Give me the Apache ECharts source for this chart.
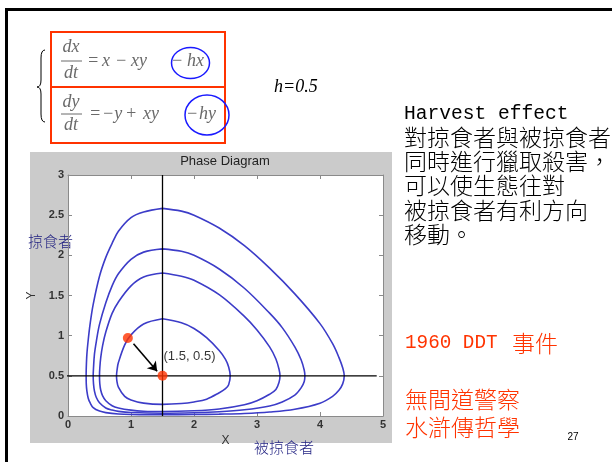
<!DOCTYPE html>
<html>
<head>
<meta charset="utf-8">
<script src="https://cdn.jsdelivr.net/npm/echarts@6/dist/echarts.min.js"></script>
<style>
  html, body { margin: 0; padding: 0; background: #fff; }
  #chart { width: 612px; height: 462px; }
</style>
</head>
<body>
<div id="chart"></div>
<script>
// Axis ticks
const xTickLabels = ['0', '1', '2', '3', '4', '5'];
const yTickLabels = ['0', '0.5', '1', '1.5', '2', '2.5', '3'];

// Predator–prey orbits with harvesting (x = prey, y = predator), traced clockwise from the top
const orbitInner = [
  [1.5, 1.21], [1.8, 1.16], [2.0, 1.09], [2.2, 0.975], [2.4, 0.815], [2.5, 0.705], [2.55, 0.61],
  [2.575, 0.5], [2.55, 0.39], [2.5, 0.34], [2.4, 0.29], [2.2, 0.21], [2.0, 0.175], [1.8, 0.155],
  [1.5, 0.145], [1.2, 0.16], [1.0, 0.2], [0.9, 0.245], [0.8, 0.36], [0.775, 0.44], [0.77, 0.5],
  [0.78, 0.58], [0.8, 0.665], [0.9, 0.885], [1.0, 1.01], [1.2, 1.145], [1.5, 1.21]
];
const orbitSecond = [
  [1.5, 1.78], [1.8, 1.74], [2.0, 1.69], [2.4, 1.51], [2.8, 1.24], [3.0, 1.07], [3.2, 0.86],
  [3.3, 0.71], [3.35, 0.58], [3.365, 0.5], [3.35, 0.42], [3.3, 0.33], [3.2, 0.27], [3.0, 0.19],
  [2.8, 0.14], [2.4, 0.087], [2.0, 0.065], [1.5, 0.056], [1.2, 0.06], [1.0, 0.073], [0.8, 0.1],
  [0.7, 0.128], [0.6, 0.19], [0.55, 0.25], [0.52, 0.32], [0.505, 0.4], [0.5, 0.5], [0.505, 0.6],
  [0.52, 0.73], [0.55, 0.88], [0.6, 1.045], [0.7, 1.277], [0.8, 1.42], [1.0, 1.62], [1.2, 1.73], [1.5, 1.78]
];
const orbitThird = [
  [1.5, 2.08], [1.8, 2.05], [2.0, 2.0], [2.4, 1.83], [2.8, 1.59], [3.2, 1.28], [3.4, 1.1],
  [3.6, 0.86], [3.7, 0.7], [3.75, 0.57], [3.76, 0.5], [3.75, 0.43], [3.7, 0.35], [3.6, 0.26],
  [3.4, 0.175], [3.2, 0.125], [2.8, 0.077], [2.4, 0.052], [2.0, 0.04], [1.5, 0.034], [1.0, 0.043],
  [0.8, 0.058], [0.7, 0.074], [0.6, 0.1], [0.5, 0.165], [0.45, 0.23], [0.42, 0.31], [0.405, 0.4],
  [0.4, 0.5], [0.405, 0.6], [0.42, 0.77], [0.45, 0.93], [0.5, 1.14], [0.6, 1.41], [0.7, 1.62],
  [0.8, 1.77], [1.0, 1.95], [1.2, 2.04], [1.5, 2.08]
];
const orbitOuter = [
  [1.5, 2.585], [1.8, 2.55], [2.0, 2.5], [2.4, 2.34], [2.8, 2.12], [3.2, 1.84], [3.6, 1.52],
  [4.0, 1.15], [4.2, 0.9], [4.3, 0.73], [4.36, 0.6], [4.385, 0.5], [4.36, 0.4], [4.3, 0.32],
  [4.2, 0.245], [4.0, 0.16], [3.6, 0.085], [3.2, 0.05], [2.8, 0.031], [2.4, 0.023], [2.0, 0.018],
  [1.5, 0.015], [1.0, 0.019], [0.8, 0.025], [0.6, 0.042], [0.5, 0.061], [0.4, 0.105], [0.35, 0.165],
  [0.32, 0.225], [0.3, 0.31], [0.29, 0.4], [0.288, 0.5], [0.29, 0.6], [0.3, 0.77], [0.32, 0.94],
  [0.35, 1.14], [0.4, 1.39], [0.5, 1.74], [0.6, 1.975], [0.7, 2.15], [0.8, 2.3], [1.0, 2.47],
  [1.2, 2.54], [1.5, 2.585]
];

// Equilibrium cross-hairs, start point, and the arrow toward equilibrium
const verticalGuide = [[1.5, 0], [1.5, 3]];
const horizontalGuide = [[-0.05, 0.5], [4.9, 0.5]];
const startPoint = [0.95, 0.97];
const equilibrium = [1.5, 0.5];
const arrowPath = [[1.04, 0.9], [1.415, 0.557]];
const equilibriumLabel = '(1.5, 0.5)';

// Slide text
const harvestTitle = 'Harvest effect';
const harvestLines = ['對掠食者與被掠食者', '同時進行獵取殺害，', '可以使生態往對', '被掠食者有利方向', '移動。'];
const ddtLatin = '1960 DDT';
const ddtCjk = '事件';
const redLines = ['無間道警察', '水滸傳哲學'];

const RED = '#ff3300';
const EQ_GREY = '#6a6a6a';
const NAVY = '#1f1f80';
const CJK = '"Noto Sans CJK TC", "Noto Sans CJK SC", sans-serif';
const MONO = '"Liberation Mono", "DejaVu Sans Mono", monospace';
const MATH = 'italic 18px "Liberation Serif", serif';

function txt(x, y, text, font, fill, align) {
  return {
    type: 'text', x: x, y: y,
    style: { text: text, font: font, fill: fill, align: align || 'left', verticalAlign: 'middle' }
  };
}
function seg(x1, y1, x2, y2, stroke, w) {
  return { type: 'line', shape: { x1: x1, y1: y1, x2: x2, y2: y2 }, style: { stroke: stroke, lineWidth: w } };
}
function curve(x1, y1, cx, cy, x2, y2) {
  return { type: 'bezierCurve', shape: { x1: x1, y1: y1, cpx1: cx, cpy1: cy, x2: x2, y2: y2 }, style: { fill: 'none', stroke: '#000', lineWidth: 1 } };
}

const graphics = [];
// slide frame
graphics.push({ type: 'rect', shape: { x: 5, y: 8, width: 620, height: 3 }, style: { fill: '#000' }, z: 10 });
graphics.push({ type: 'rect', shape: { x: 5, y: 8, width: 3, height: 470 }, style: { fill: '#000' }, z: 10 });
// figure background
graphics.push({ type: 'rect', shape: { x: 30, y: 152, width: 362, height: 291 }, style: { fill: '#cbcbcb' }, z: -10 });
// equation boxes
graphics.push({ type: 'rect', shape: { x: 51, y: 32, width: 174, height: 55 }, style: { fill: 'none', stroke: RED, lineWidth: 2 } });
graphics.push({ type: 'rect', shape: { x: 51, y: 87, width: 174, height: 56 }, style: { fill: 'none', stroke: RED, lineWidth: 2 } });
// brace joining the two equations
graphics.push(curve(45, 50, 41, 50, 41, 58));
graphics.push(seg(41, 58, 41, 80, '#000', 1));
graphics.push(curve(41, 80, 41, 87, 37, 87));
graphics.push(curve(37, 87, 41, 87, 41, 94));
graphics.push(seg(41, 94, 41, 114, '#000', 1));
graphics.push(curve(41, 114, 41, 122, 45, 122));
// first equation
graphics.push(txt(71, 47, 'dx', MATH, EQ_GREY, 'center'));
graphics.push(seg(61, 61, 82, 61, EQ_GREY, 1));
graphics.push(txt(71, 73, 'dt', MATH, EQ_GREY, 'center'));
[['=', 87], ['x', 102], ['−', 115], ['xy', 131], ['−', 171], ['hx', 187]].forEach(t => graphics.push(txt(t[1], 61, t[0], MATH, EQ_GREY)));
// second equation
graphics.push(txt(71, 102, 'dy', MATH, EQ_GREY, 'center'));
graphics.push(seg(61, 114, 82, 114, EQ_GREY, 1));
graphics.push(txt(71, 125, 'dt', MATH, EQ_GREY, 'center'));
[['=', 89], ['−y', 102], ['+', 125], ['xy', 143], ['−', 186], ['hy', 199]].forEach(t => graphics.push(txt(t[1], 114, t[0], MATH, EQ_GREY)));
// circles around the harvest terms
graphics.push({ type: 'ellipse', shape: { cx: 190.5, cy: 63, rx: 19, ry: 15.5 }, style: { fill: 'none', stroke: '#1a1aff', lineWidth: 1.5 } });
graphics.push({ type: 'ellipse', shape: { cx: 207, cy: 115, rx: 22, ry: 20 }, style: { fill: 'none', stroke: '#1a1aff', lineWidth: 1.5 } });
graphics.push(txt(274, 87, 'h=0.5', 'italic 18px "Liberation Serif", serif', '#000'));
// right-hand notes
graphics.push(txt(404, 114, harvestTitle, '19.6px ' + MONO, '#000'));
harvestLines.forEach((s, i) => graphics.push(txt(404, 137 + i * 24.3, s, '300 23px ' + CJK, '#000')));
graphics.push(txt(405, 343, ddtLatin, '19.3px ' + MONO, RED));
graphics.push(txt(512, 343, ddtCjk, '300 23px ' + CJK, RED));
graphics.push(txt(405, 399, redLines[0], '300 23px ' + CJK, RED));
graphics.push(txt(405, 427, redLines[1], '300 23px ' + CJK, RED));
graphics.push(txt(573, 437, '27', '10px "Liberation Sans", Arial, sans-serif', '#000', 'center'));
// figure title and Chinese axis captions
graphics.push(txt(225, 161, 'Phase Diagram', '13px "Liberation Sans", Arial, sans-serif', '#222', 'center'));
graphics.push(txt(28, 241, '掠食者', '300 15px ' + CJK, NAVY));
graphics.push(txt(254, 447, '被掠食者', '300 15px ' + CJK, NAVY));

const tickFont = { color: '#333', fontWeight: 'bold', fontSize: 11, fontFamily: '"Liberation Sans", Arial, sans-serif' };
const boxLine = { show: true, onZero: false, lineStyle: { color: '#8a8a8a', width: 1 } };
const boxTick = { show: true, inside: true, length: 4, lineStyle: { color: '#8a8a8a' } };

const orbitStyle = { color: '#3c3cc8', width: 1.6 };
const orbitSeries = [orbitInner, orbitSecond, orbitThird, orbitOuter].map(d => ({
  type: 'line', data: d, smooth: 0.35, symbol: 'none', lineStyle: orbitStyle, z: 3, silent: true
}));

const chart = echarts.init(document.getElementById('chart'), null, { renderer: 'canvas', width: 612, height: 462 });
chart.setOption({
  animation: false,
  backgroundColor: '#fff',
  grid: { left: 68, right: 229, top: 175, bottom: 46, show: true, backgroundColor: '#fff', borderWidth: 0 },
  xAxis: [
    {
      type: 'value', min: 0, max: 5, interval: 1, position: 'bottom',
      axisLine: boxLine, axisTick: boxTick, splitLine: { show: false },
      axisLabel: Object.assign({ margin: 3, formatter: v => xTickLabels[Math.round(v)] }, tickFont),
      name: 'X', nameLocation: 'middle', nameGap: 16,
      nameTextStyle: { color: '#333', fontSize: 12, fontFamily: '"Liberation Sans", Arial, sans-serif' }
    },
    {
      type: 'value', min: 0, max: 5, interval: 1, position: 'top',
      axisLine: boxLine, axisTick: boxTick, splitLine: { show: false }, axisLabel: { show: false }
    }
  ],
  yAxis: [
    {
      type: 'value', min: 0, max: 3, interval: 0.5, position: 'left',
      axisLine: boxLine, axisTick: boxTick, splitLine: { show: false },
      axisLabel: Object.assign({ margin: 4, formatter: v => yTickLabels[Math.round(v / 0.5)] }, tickFont),
      name: 'Y', nameLocation: 'middle', nameGap: 26,
      nameTextStyle: { color: '#333', fontSize: 12, fontFamily: '"Liberation Sans", Arial, sans-serif' }
    },
    {
      type: 'value', min: 0, max: 3, interval: 0.5, position: 'right',
      axisLine: boxLine, axisTick: boxTick, splitLine: { show: false }, axisLabel: { show: false }
    }
  ],
  graphic: { elements: graphics },
  series: orbitSeries.concat([
    { type: 'line', data: verticalGuide, symbol: 'none', lineStyle: { color: '#000', width: 1.3 }, z: 4, clip: false, silent: true },
    { type: 'line', data: horizontalGuide, symbol: 'none', lineStyle: { color: '#000', width: 1.3 }, z: 4, clip: false, silent: true },
    {
      type: 'line', data: [], symbol: 'none', z: 5,
      markLine: {
        silent: true, symbol: ['none', 'arrow'], symbolSize: 9,
        label: { show: false },
        lineStyle: { color: '#000', width: 1.6, type: 'solid' },
        data: [[{ coord: arrowPath[0] }, { coord: arrowPath[1] }]]
      }
    },
    {
      type: 'scatter', symbolSize: 10, z: 6, silent: true,
      itemStyle: { color: RED },
      data: [
        { value: startPoint },
        {
          value: equilibrium,
          label: {
            show: true, formatter: equilibriumLabel, position: [6, -21],
            color: '#000', fontSize: 13, fontFamily: '"Liberation Sans", Arial, sans-serif'
          }
        }
      ]
    }
  ])
});
</script>
</body>
</html>
